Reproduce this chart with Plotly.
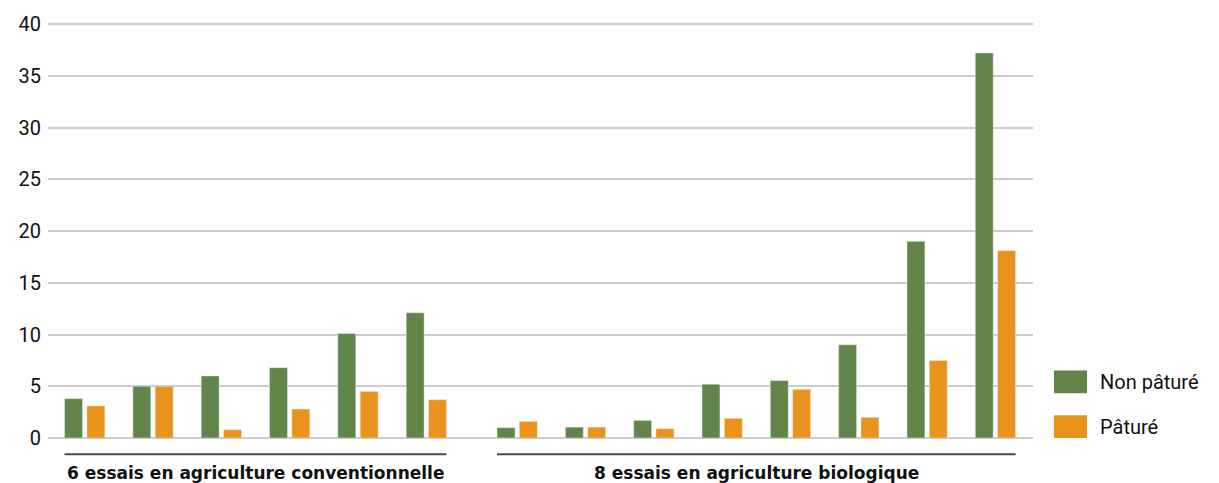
import plotly.graph_objects as go

# ---- data ----
conv_labels = ["C1", "C2", "C3", "C4", "C5", "C6"]
bio_labels = ["B1", "B2", "B3", "B4", "B5", "B6", "B7", "B8"]
conv_non_pature = [3.8, 5.0, 6.0, 6.8, 10.1, 12.1]
conv_pature = [3.1, 5.0, 0.8, 2.8, 4.5, 3.7]
bio_non_pature = [1.0, 1.05, 1.7, 5.2, 5.55, 9.0, 19.0, 37.2]
bio_pature = [1.6, 1.05, 0.9, 1.9, 4.7, 2.0, 7.5, 18.1]
group_titles = ["6 essais en agriculture conventionnelle", "8 essais en agriculture biologique"]
series_names = ["Non pâturé", "Pâturé"]
y_ticks = [0, 5, 10, 15, 20, 25, 30, 35, 40]

# ---- styles ----
GREEN = "#62864a"
ORANGE = "#ea931c"
GRID = "#cccccc"
TEXT = "#111111"
GAP = 0.33  # extra spacing between the two groups of trials

n_conv = len(conv_labels)
n_bio = len(bio_labels)
x_conv = list(range(n_conv))
x_bio = [n_conv + GAP + j for j in range(n_bio)]
x_all = x_conv + x_bio
labels_all = conv_labels + bio_labels
non_pature = conv_non_pature + bio_non_pature
pature = conv_pature + bio_pature

fig = go.Figure()
fig.add_trace(go.Bar(x=x_all, y=non_pature, name=series_names[0], marker_color=GREEN,
                     customdata=labels_all, hovertemplate="%{customdata}: %{y}<extra>" + series_names[0] + "</extra>"))
fig.add_trace(go.Bar(x=x_all, y=pature, name=series_names[1], marker_color=ORANGE,
                     customdata=labels_all, hovertemplate="%{customdata}: %{y}<extra>" + series_names[1] + "</extra>"))

BAR_HALF = 0.295  # outer edge of bars relative to group center (from bargap/bargroupgap)
PLOT_H = 419

shapes = []
annotations = []
line_y = -16.5 / PLOT_H
label_y = -35 / PLOT_H
for xs, title in ((x_conv, group_titles[0]), (x_bio, group_titles[1])):
    x0 = xs[0] - BAR_HALF
    x1 = xs[-1] + BAR_HALF
    shapes.append(dict(type="line", xref="x", yref="paper", x0=x0, x1=x1, y0=line_y, y1=line_y,
                       line=dict(color="#4a4a4a", width=2)))
    annotations.append(dict(xref="x", yref="paper", x=(x0 + x1) / 2, y=label_y, text="<b>" + title + "</b>",
                            showarrow=False, xanchor="center", yanchor="middle",
                            font=dict(family="DejaVu Sans", size=17, color=TEXT)))

# legend drawn as blocks + labels
leg_font = dict(family="Roboto", size=20, color=TEXT)
for (y0, y1, yt), color, name in (((0.1077, 0.1627, 0.1352), GREEN, series_names[0]),
                                  ((0.0, 0.055, 0.0275), ORANGE, series_names[1])):
    shapes.append(dict(type="rect", xref="paper", yref="paper", x0=1.0213, x1=1.0548, y0=y0, y1=y1,
                       fillcolor=color, line=dict(width=0)))
    annotations.append(dict(xref="paper", yref="paper", x=1.066, y=yt, text=name, showarrow=False,
                            xanchor="left", yanchor="middle", font=leg_font))

fig.update_layout(
    width=1219, height=483,
    margin=dict(l=48, r=186, t=19, b=45),
    paper_bgcolor="white", plot_bgcolor="white",
    barmode="group", bargap=0.346, bargroupgap=0.196,
    showlegend=False,
    shapes=shapes, annotations=annotations,
    font=dict(family="Roboto", color=TEXT),
)
fig.update_xaxes(range=[-0.537, x_bio[-1] + 0.55], showticklabels=False, showgrid=False,
                 zeroline=False, showline=False, ticks="")
fig.update_yaxes(range=[0, 40.1], tickvals=y_ticks, showgrid=True, gridcolor=GRID, gridwidth=1.5,
                 zeroline=True, zerolinecolor=GRID, zerolinewidth=1.5, showline=False, ticks="",
                 ticklabelstandoff=6, tickfont=dict(family="Roboto", size=20, color=TEXT))

fig.write_html("out.html", config={"displayModeBar": False},
               post_script="document.body.style.margin='0';document.body.style.padding='0';")
